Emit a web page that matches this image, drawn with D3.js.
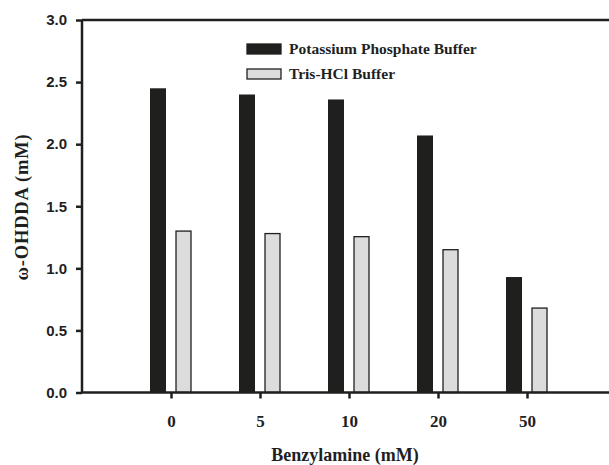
<!DOCTYPE html>
<html>
<head>
<meta charset="utf-8">
<script src="https://cdn.jsdelivr.net/npm/d3@7"></script>
<style>
  body { margin: 0; background: #fff; }
  .chart text { fill: #1f1f1f; }
</style>
</head>
<body>
<div class="chart"></div>
<script>
// bar chart - two buffers
var categories = ['0', '5', '10', '20', '50'];
var series = ['Potassium Phosphate Buffer', 'Tris-HCl Buffer'];
var phosphate = [2.45, 2.40, 2.36, 2.07, 0.93];
var trisHcl = [1.30, 1.28, 1.255, 1.15, 0.68];
var yTicks = [0, 0.5, 1.0, 1.5, 2.0, 2.5, 3.0];

const colors = ['#1f1f1d', '#dcdcdc'];
const dark = '#1f1f1d';
const serif = '"Liberation Serif", "Times New Roman", serif';
const sans = '"Liberation Sans", Arial, sans-serif';

const svg = d3.select('.chart').append('svg')
    .attr('width', 609)
    .attr('height', 465);

const plotLeft = 82, plotRight = 616, plotTop = 20, plotBottom = 392.5;

// x as a linear index scale, one empty slot each side
var x = d3.scaleLinear()
    .domain([-1, categories.length])
    .range([plotLeft, plotRight]);

var y = d3.scaleLinear()
    .domain([0, 3])
    .range([plotBottom, plotTop]);

var inner = d3.scaleBand()
    .domain(series)
    .range([-21, 21])
    .paddingInner(0.385);

var rows = categories.map((c, i) => ({cat: c, i: i, vals: [phosphate[i], trisHcl[i]]}));

// bars
var groups = svg.selectAll('g.grp')
    .data(rows)
    .enter().append('g')
    .attr('class', 'grp')
    .attr('transform', d => `translate(${x(d.i)},0)`);

groups.selectAll('rect')
    .data(d => d.vals.map((v, k) => ({s: series[k], v: v, k: k})))
    .enter().append('rect')
    .attr('x', d => inner(d.s))
    .attr('width', d => d.k === 0 ? inner.bandwidth() : inner.bandwidth() - 1)
    .attr('y', d => y(d.v))
    .attr('height', d => y(0) - y(d.v))
    .attr('fill', d => colors[d.k])
    .attr('stroke', d => d.k === 1 ? dark : 'none')
    .attr('stroke-width', 1.3);

// axes
var yAxis = d3.axisLeft(y)
    .tickValues(yTicks)
    .tickFormat(d3.format('.1f'))
    .tickSize(6)
    .tickPadding(9);

var xAxis = d3.axisBottom(x)
    .tickValues(d3.range(categories.length))
    .tickFormat(i => categories[i])
    .tickSize(6)
    .tickPadding(16);

var gy = svg.append('g')
    .attr('transform', `translate(${plotLeft},0)`)
    .call(yAxis);
gy.selectAll('text')
    .style('font-family', sans)
    .style('font-weight', 'bold')
    .style('font-size', '15px');

var gx = svg.append('g')
    .attr('transform', `translate(0,${plotBottom})`)
    .call(xAxis);
gx.selectAll('text')
    .style('font-family', serif)
    .style('font-weight', 'bold')
    .style('font-size', '17px');

svg.selectAll('.domain, .tick line')
    .attr('stroke', dark)
    .attr('stroke-width', 2.5);
gy.select('.domain').attr('d', `M0,${plotBottom}V${plotTop}`);
gx.select('.domain').attr('d', `M${plotLeft},0H${plotRight}`);

// top frame line
svg.append('path')
    .attr('d', `M${plotLeft},${plotTop}H${plotRight}`)
    .attr('stroke', dark)
    .attr('stroke-width', 2.5);

// axis titles
svg.append('text')
    .attr('transform', 'translate(28,207) rotate(-90)')
    .attr('text-anchor', 'middle')
    .style('font-family', serif)
    .style('font-weight', 'bold')
    .style('font-size', '18.5px')
    .style('letter-spacing', '0.8px')
    .text('ω-OHDDA (mM)');

svg.append('text')
    .attr('x', 345)
    .attr('y', 461)
    .attr('text-anchor', 'middle')
    .style('font-family', serif)
    .style('font-weight', 'bold')
    .style('font-size', '18px')
    .text('Benzylamine (mM)');

// legend
var legend = svg.selectAll('g.leg')
    .data(series)
    .enter().append('g')
    .attr('class', 'leg')
    .attr('transform', (d, i) => `translate(247,${44 + i * 25})`);

legend.append('rect')
    .attr('width', 34)
    .attr('height', 10)
    .attr('fill', (d, i) => colors[i])
    .attr('stroke', dark)
    .attr('stroke-width', 1.3);

legend.append('text')
    .attr('x', 42)
    .attr('y', 10)
    .style('font-family', serif)
    .style('font-weight', 'bold')
    .style('font-size', '15.5px')
    .text(d => d);
</script>
</body>
</html>
